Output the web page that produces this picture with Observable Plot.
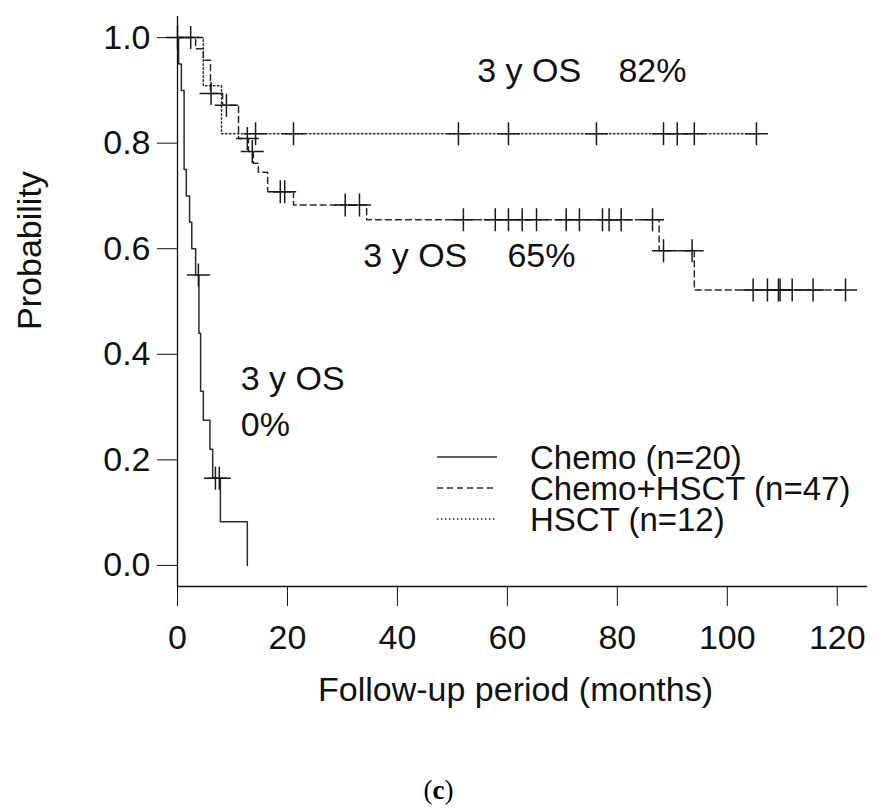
<!DOCTYPE html>
<html><head><meta charset="utf-8">
<script src="https://cdn.jsdelivr.net/npm/d3@7"></script>
<script src="https://cdn.jsdelivr.net/npm/@observablehq/plot@0.6"></script>
<style>
body{margin:0;background:#fff;}
#chart{width:877px;position:relative;}
.cap{width:877px;text-align:center;font-family:"Liberation Serif","Times New Roman",serif;font-size:27px;line-height:30px;padding-top:15px;color:#000;}
</style></head><body>
<div id="chart"></div>
<div class="cap" style="font-size:27px">(<b>c</b>)</div>
<script>
// ---- Data (months, survival probability) ----
const chemoTimes = [0, 0.2, 0.7, 1.2, 1.6, 2.2, 2.6, 3.3, 3.9, 4.2, 4.7, 5.9, 6.4, 7.8, 12.7];
const chemoSurv  = [1, 0.95, 0.90, 0.75, 0.70, 0.65, 0.60, 0.55, 0.44, 0.33, 0.275, 0.22, 0.165, 0.0825, 0];
const chemoCensor = [3.8, 6.9, 7.6];

const comboTimes = [0, 3.3, 4.7, 6.0, 8.2, 11.1, 12.9, 13.8, 14.7, 16.4, 21.1, 34.4, 87.6, 94.0, 121.5];
const comboSurv  = [1, 0.979, 0.957, 0.894, 0.872, 0.809, 0.784, 0.762, 0.745, 0.708, 0.683, 0.655, 0.596, 0.522, 0.522];
const comboCensor = [0, 6.1, 8.9, 12.7, 13.6, 18.7, 19.5, 30.5, 33.1, 52.0, 57.8, 60.2, 62.7, 65.3, 70.7, 73.1, 77.3, 78.5, 80.7, 86.4, 88.4, 93.6, 104.7, 107.3, 109.3, 109.6, 111.8, 115.6, 121.5];

const hsctTimes = [0, 4.7, 8.0, 105.3];
const hsctSurv  = [1, 0.909, 0.818, 0.818];
const hsctCensor = [2.4, 14.2, 21.1, 51.1, 60.2, 76.2, 88.4, 90.9, 94.0, 105.3];

const groupNames = ["Chemo (n=20)", "Chemo+HSCT (n=47)", "HSCT (n=12)"];
const xTicks = [0, 20, 40, 60, 80, 100, 120];
const yTicks = [0, 0.2, 0.4, 0.6, 0.8, 1.0];

// ---- Build tables ----
const groups = [
  {name: groupNames[0], times: chemoTimes, surv: chemoSurv, censor: chemoCensor, dash: null},
  {name: groupNames[1], times: comboTimes, surv: comboSurv, censor: comboCensor, dash: "6,4"},
  {name: groupNames[2], times: hsctTimes, surv: hsctSurv, censor: hsctCensor, dash: "1.5,2.5"}
];
function survAt(g, t) {
  let s = 1;
  for (let i = 0; i < g.times.length; i++) if (g.times[i] <= t) s = g.surv[i];
  return s;
}
const plusSymbol = {
  draw(ctx, size) {
    const r = Math.sqrt(size / Math.PI);
    ctx.moveTo(-r, 0); ctx.lineTo(r, 0);
    ctx.moveTo(0, -r); ctx.lineTo(0, r);
  }
};

const lineColor = "#2b2b2b";
const marks = [];
for (const g of groups) {
  const pts = g.times.map((t, i) => ({t, s: g.surv[i]}));
  marks.push(Plot.line(pts, {x: "t", y: "s", curve: "step-after", stroke: lineColor, strokeWidth: 1.5, strokeDasharray: g.dash || undefined}));
}
for (const g of groups) {
  const cs = g.censor.map(t => ({t, s: survAt(g, t)}));
  marks.push(Plot.dot(cs, {x: "t", y: "s", symbol: plusSymbol, r: 11.5, fill: "none", stroke: "#1a1a1a", strokeWidth: 1.5}));
}

const txt = {fontSize: 34, fill: "#111", textAnchor: "start", lineAnchor: "bottom"};
marks.push(
  Plot.text(["3 y OS"], {...txt, x: 54.5, y: 0.9165}),
  Plot.text(["82%"], {...txt, x: 80.2, y: 0.9165}),
  Plot.text(["3 y OS"], {...txt, x: 33.8, y: 0.5655}),
  Plot.text(["65%"], {...txt, x: 60.0, y: 0.5655}),
  Plot.text(["3 y OS"], {...txt, x: 11.5, y: 0.332}),
  Plot.text(["0%"], {...txt, x: 11.5, y: 0.245})
);

// axes
marks.push(
  Plot.ruleX([0], {stroke: "#111", strokeWidth: 1.3}),
  Plot.ruleY([-0.04], {stroke: "#111", strokeWidth: 1.3}),
  Plot.axisX(xTicks, {tickSize: 20, tickPadding: 18, fontSize: 34, stroke: "#111", fill: "#111", label: null}),
  Plot.axisY(yTicks, {tickSize: 20, tickPadding: 7, fontSize: 34, stroke: "#111", fill: "#111", label: null, tickFormat: d => d.toFixed(1)}),
  Plot.text(["Follow-up period (months)"], {frameAnchor: "bottom", dx: -7, dy: 114, fontSize: 34, fill: "#111", textAnchor: "middle", lineAnchor: "bottom"}),
  Plot.text(["Probability"], {frameAnchor: "left", dx: -147, dy: -51, rotate: -90, fontSize: 34, fill: "#111", textAnchor: "middle", lineAnchor: "middle"})
);

const chart = Plot.plot({
  width: 877,
  height: 760,
  marginLeft: 177,
  marginRight: 10,
  marginTop: 16,
  marginBottom: 174,
  style: {fontFamily: "'Liberation Sans', Arial, sans-serif", fontSize: "34px", background: "#fff", color: "#111"},
  x: {domain: [0, 125.5], axis: null},
  y: {domain: [-0.04, 1.04], axis: null},
  marks
});
document.getElementById("chart").appendChild(chart);

// legend (drawn in pixel space, like R's legend box without border)
const svg = d3.select(chart.tagName.toLowerCase() === "svg" ? chart : chart.querySelector("svg"));
const leg = svg.append("g").attr("font-family", "'Liberation Sans', Arial, sans-serif").attr("font-size", 33).attr("fill", "#111").attr("text-anchor", "start");
groups.forEach((g, i) => {
  const y = 457 + i * 31;
  leg.append("line").attr("x1", 437).attr("x2", 497).attr("y1", y).attr("y2", y)
    .attr("stroke", lineColor).attr("stroke-width", 1.5).attr("stroke-dasharray", g.dash || null);
  leg.append("text").attr("x", 530).attr("y", y).attr("dy", "0.35em").attr("text-anchor", "start").text(g.name);
});
</script>
</body></html>
